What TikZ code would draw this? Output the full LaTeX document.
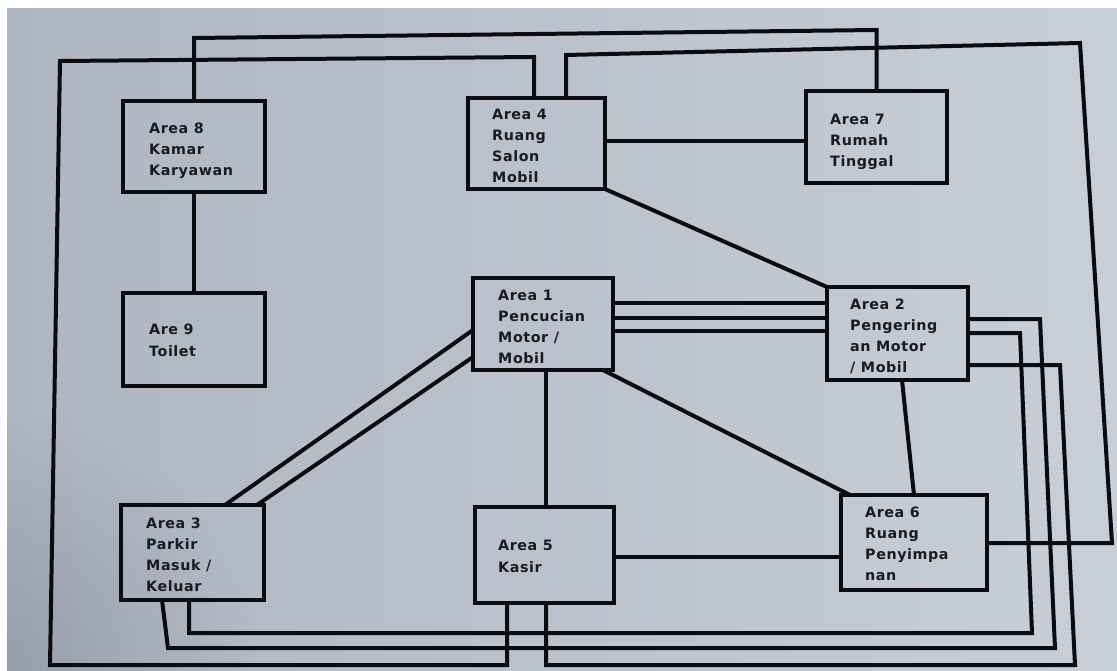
\documentclass[tikz,border=0pt]{standalone}
\usepackage{fontspec}
\newfontfamily\lblfont[LetterSpace=4]{DejaVu Sans}
\usetikzlibrary{fadings}
\tikzfading[name=softcorner, inner color=transparent!0, outer color=transparent!100]
\definecolor{paperL}{HTML}{AEB6C2}
\definecolor{paperR}{HTML}{C8CFD8}
\definecolor{shadowc}{HTML}{5E6474}
\definecolor{ink}{HTML}{0C0C10}
\definecolor{txtc}{HTML}{1A1A20}
\begin{document}
\begin{tikzpicture}[x=1pt,y=-1pt,
  conn/.style={draw=ink, line width=4pt},
  box/.style 2 args={draw=ink, line width=4.2pt, minimum width=#1, minimum height=#2, inner sep=0pt, outer sep=0pt},
  lbl/.style={anchor=north west, inner sep=0pt, align=left, text=txtc, font=\lblfont\bfseries\fontsize{14.3}{21}\selectfont}]
% background (photographed paper)
\useasboundingbox (0,0) rectangle (1117,671);
\fill[white] (0,0) rectangle (1117,671);
\begin{scope}
  \clip (7,9) rectangle (1117,671);
  \shade[left color=paperL, right color=paperR] (7,9) rectangle (1117,671);
  \fill[shadowc, opacity=0.3, path fading=softcorner] (0,671) circle (260);
\end{scope}

% boxes
\node[box={142pt}{91pt}] (a8) at (194,146.5) {};
\node[box={142pt}{93pt}] (a9) at (194,339.5) {};
\node[box={137pt}{91pt}] (a4) at (536.5,143.5) {};
\node[box={141pt}{92pt}] (a7) at (876.5,137) {};
\node[box={140pt}{92pt}] (a1) at (543,324) {};
\node[box={141pt}{93pt}] (a2) at (897.5,333.5) {};
\node[box={143pt}{95pt}] (a3) at (192.5,552.5) {};
\node[box={139pt}{96pt}] (a5) at (544.5,555) {};
\node[box={146pt}{95pt}] (a6) at (914,542.5) {};

% labels
\node[lbl] (t8) at (149,123) {Area 8\\Kamar\\Karyawan};
\node[lbl] (t9) at (149,324) {Are 9\\[1pt]Toilet};
\node[lbl] (t4) at (492,109) {Area 4\\Ruang\\Salon\\Mobil};
\node[lbl] (t7) at (830,114) {Area 7\\Rumah\\Tinggal};
\node[lbl] (t1) at (498,290) {Area 1\\Pencucian\\Motor /\\Mobil};
\node[lbl] (t2) at (850,299) {Area 2\\Pengering\\an Motor\\/ Mobil};
\node[lbl] (t3) at (146,518) {Area 3\\Parkir\\Masuk /\\Keluar};
\node[lbl] (t5) at (498,540) {Area 5\\[1pt]Kasir};
\node[lbl] (t6) at (865,507) {Area 6\\Ruang\\Penyimpa\\nan};

% bend points
\coordinate (T1) at (194,38);
\coordinate (T2) at (876.5,30);
\coordinate (L1) at (534,57);
\coordinate (L2) at (60,61);
\coordinate (L3) at (50,665);
\coordinate (L4) at (507,665);
\coordinate (R1) at (566,55);
\coordinate (R2) at (1080,43);
\coordinate (R3) at (1112,543);
\coordinate (P1) at (1040,319);
\coordinate (P2) at (1055,648);
\coordinate (P3) at (168,648);
\coordinate (P4) at (162,600);
\coordinate (Q1) at (1020,333);
\coordinate (Q2) at (1032,633);
\coordinate (Q3) at (189,633);
\coordinate (S1) at (1060,365);
\coordinate (S2) at (1075,665);
\coordinate (S3) at (546,665);
\coordinate (M1) at (700,303);
\coordinate (M2) at (700,318);
\coordinate (M3) at (700,331);
\coordinate (D1) at (0,330);
\coordinate (D2) at (0,357);
\coordinate (E1) at (225,0);
\coordinate (E2) at (257,0);
\coordinate (V1) at (546,0);
\coordinate (F1) at (603,0);
\coordinate (F2) at (850,0);
\coordinate (G1) at (902,0);
\coordinate (G2) at (914,0);
\coordinate (H1) at (0,141);
\coordinate (J1) at (0,557);

% connectors
\draw[conn] (a8.south) -- (a9.north);
\draw[conn] (a8.north) -- (T1) -- (T2) -- (a7.north);
\draw[conn] (L1 |- a4.north) -- (L1) -- (L2) -- (L3) -- (L4) -- (L4 |- a5.south);
\draw[conn] (R1 |- a4.north) -- (R1) -- (R2) -- (R3) -- (R3 -| a6.east);
\draw[conn] (H1 -| a4.east) -- (H1 -| a7.west);
\draw[conn] (a4.south east) -- (a2.north west);
\draw[conn] (M1 -| a1.east) -- (M1 -| a2.west);
\draw[conn] (M2 -| a1.east) -- (M2 -| a2.west);
\draw[conn] (M3 -| a1.east) -- (M3 -| a2.west);
\draw[conn] (D1 -| a1.west) -- (E1 |- a3.north);
\draw[conn] (D2 -| a1.west) -- (E2 |- a3.north);
\draw[conn] (V1 |- a1.south) -- (V1 |- a5.north);
\draw[conn] (F1 |- a1.south) -- (F2 |- a6.north);
\draw[conn] (G1 |- a2.south) -- (G2 |- a6.north);
\draw[conn] (J1 -| a5.east) -- (J1 -| a6.west);
\draw[conn] (P1 -| a2.east) -- (P1) -- (P2) -- (P3) -- (P4 |- a3.south);
\draw[conn] (Q1 -| a2.east) -- (Q1) -- (Q2) -- (Q3) -- (Q3 |- a3.south);
\draw[conn] (S1 -| a2.east) -- (S1) -- (S2) -- (S3) -- (S3 |- a5.south);
\end{tikzpicture}
\end{document}
